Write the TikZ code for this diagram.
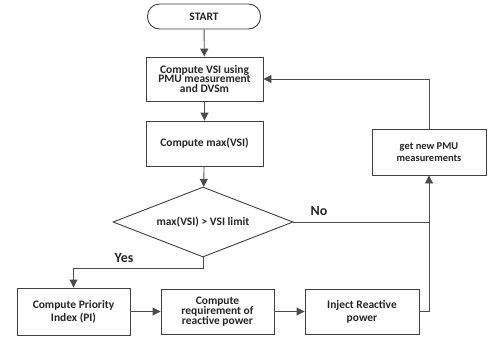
\documentclass[tikz,border=0pt]{standalone}
\usepackage{fontspec}
\setmainfont{Carlito}
\usetikzlibrary{arrows.meta,shapes.geometric,shadows}
\begin{document}
\begin{tikzpicture}[x=1bp,y=-1bp,
  every node/.style={font=\bfseries\fontsize{11.5}{13}\selectfont, text=black!85},
  box/.style={draw=black!75, line width=0.9bp, fill=white, rectangle, minimum width=115bp, minimum height=45bp, align=center, inner sep=1bp,
     drop shadow={shadow xshift=1.2bp, shadow yshift=-1.2bp, opacity=0.25}},
  term/.style={draw=black!75, line width=0.9bp, fill=white, rounded corners=12bp, minimum width=113bp, minimum height=25bp},
  dec/.style={draw=black!75, line width=0.9bp, fill=white, diamond, aspect=2.57, minimum width=180bp, minimum height=70bp, inner sep=0bp},
  conn/.style={draw=black!70, line width=0.9bp},
  arr/.style={conn, -{Triangle[length=8bp,width=8bp]}},
  lab/.style={font=\bfseries\fontsize{14}{16}\selectfont, text=black!85}]
\useasboundingbox (0,0) rectangle (488,345);
\node[term] (start) at (204,16.5) {START};
\node[box, minimum width=117bp, minimum height=44bp] (vsi) at (204.5,79) {Compute VSI using\\[-3pt]PMU measurement\\[-3pt]and DVSm};
\node[box, minimum width=117bp] (max) at (204.5,143.5) {Compute max(VSI)};
\node[dec] (dec) at (203,222) {max(VSI) \textgreater{} VSI limit};
\node[box, minimum width=114bp, minimum height=46bp, font=\bfseries\fontsize{10.5}{12}\selectfont] (pmu) at (429,152) {get new PMU\\measurements};
\node[box, minimum width=113bp, minimum height=47bp] (pi) at (73.5,311.5) {Compute Priority\\Index (PI)};
\node[box, minimum width=113bp, minimum height=45bp] (req) at (217.5,311.5) {Compute\\[-3pt]requirement of\\[-3pt]reactive power};
\node[box, minimum width=114bp, minimum height=45bp] (inj) at (362,311.5) {Inject Reactive\\power};
\coordinate (nocorner) at (pmu.south |- dec.east);
\coordinate (yescorner) at (dec.south |- 0,268);
\draw[arr] (start) -- (vsi);
\draw[arr] (vsi) -- (max);
\draw[arr] (max) -- (dec);
\draw[arr] (pmu.north) |- (vsi.east);
\draw[conn] (dec.east) -- (nocorner);
\draw[arr] (inj.east) -| (pmu.south);
\draw[arr] (dec.south) -- (yescorner) -| (pi.north);
\draw[arr] (pi) -- (req);
\draw[arr] (req) -- (inj);
\node[lab] (no) at (319,211) {No};
\node[lab] (yes) at (124,258) {Yes};
\end{tikzpicture}
\end{document}
